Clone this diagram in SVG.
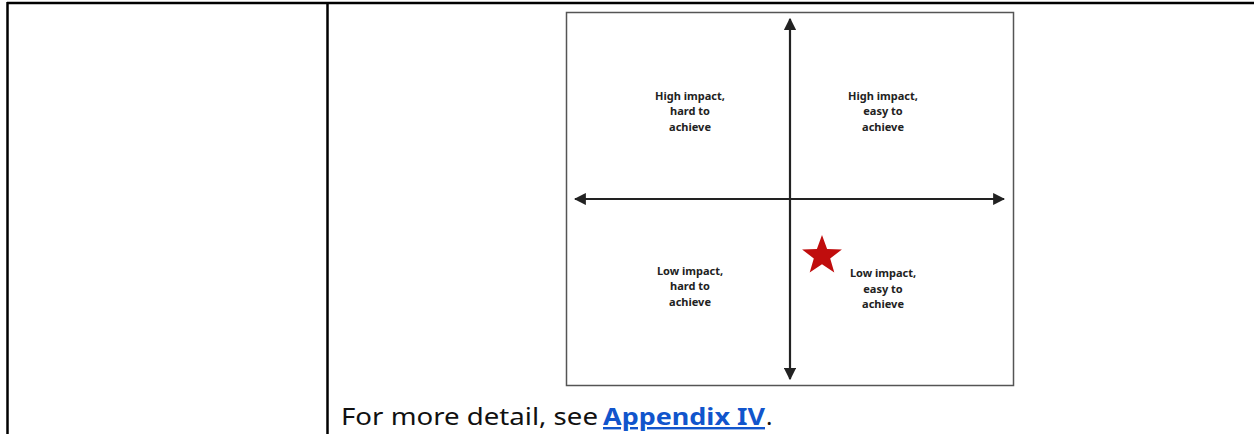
<svg xmlns="http://www.w3.org/2000/svg" width="1254" height="434" viewBox="0 0 1254 434">
  <style>
    .rule { stroke: #000; stroke-width: 2.5; fill: none; }
    .axis { stroke: #222; stroke-width: 2.2; fill: none; }
    .frame { fill: #fff; stroke: #555; stroke-width: 1.5; }
    .quad { font-family: "Noto Sans", "Open Sans", sans-serif; font-weight: 700; font-size: 11px; fill: #222; text-anchor: middle; }
    .body { font-family: "Noto Sans", "Open Sans", sans-serif; font-size: 24px; fill: #111; }
    .link { fill: #1155cc; font-weight: 700; text-decoration: underline; }
  </style>
  <defs>
    <marker id="head" viewBox="0 0 10 10" refX="9" refY="5" markerWidth="5.5" markerHeight="5.5" orient="auto-start-reverse">
      <path d="M0,0 L10,5 L0,10 Z" fill="#222"/>
    </marker>
  </defs>

  <rect width="1254" height="434" fill="#fff"/>

  <!-- table borders -->
  <g id="table">
    <line class="rule" x1="7" y1="3" x2="1254" y2="3"/>
    <line class="rule" x1="7.5" y1="2" x2="7.5" y2="434"/>
    <line class="rule" x1="327.5" y1="2" x2="327.5" y2="434"/>
  </g>

  <!-- priority matrix -->
  <g id="matrix">
    <rect class="frame" x="566.5" y="12.5" width="447" height="373"/>
  </g>

  <g id="connectors">
    <line class="axis" x1="790" y1="379" x2="790" y2="19" marker-start="url(#head)" marker-end="url(#head)"/>
    <line class="axis" x1="575" y1="199" x2="1004" y2="199" marker-start="url(#head)" marker-end="url(#head)"/>
  </g>

  <g id="q-high-hard">
    <text class="quad"><tspan x="690" y="100">High impact,</tspan><tspan x="690" y="115">hard to</tspan><tspan x="690" y="131">achieve</tspan></text>
  </g>
  <g id="q-high-easy">
    <text class="quad"><tspan x="883" y="100">High impact,</tspan><tspan x="883" y="115">easy to</tspan><tspan x="883" y="131">achieve</tspan></text>
  </g>
  <g id="q-low-hard">
    <text class="quad"><tspan x="690" y="275">Low impact,</tspan><tspan x="690" y="290">hard to</tspan><tspan x="690" y="306">achieve</tspan></text>
  </g>
  <g id="q-low-easy">
    <text class="quad"><tspan x="883" y="277">Low impact,</tspan><tspan x="883" y="293">easy to</tspan><tspan x="883" y="308">achieve</tspan></text>
  </g>

  <g id="star">
    <polygon fill="#c00d0d" points="822,235 827.1,248.9 841.9,249.4 830.2,258.5 834.3,272.6 822,264.3 809.7,272.6 813.8,258.5 802.1,249.4 816.9,248.9"/>
  </g>

  <g id="caption">
    <text class="body" x="341" y="425" textLength="257" lengthAdjust="spacingAndGlyphs">For more detail, see</text>
    <text class="body link" x="603" y="425" textLength="162" lengthAdjust="spacingAndGlyphs">Appendix IV</text>
    <text class="body" x="766" y="425">.</text>
  </g>
</svg>
